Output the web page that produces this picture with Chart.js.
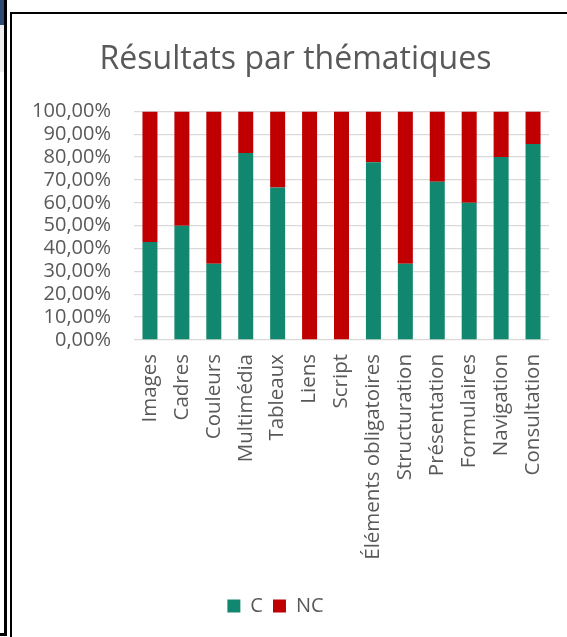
<!DOCTYPE html>
<html>
<head>
<meta charset="utf-8">
<script src="https://cdn.jsdelivr.net/npm/chart.js@4/dist/chart.umd.min.js"></script>
<style>
  html, body { margin: 0; padding: 0; background: #ffffff; overflow: hidden; width: 567px; height: 637px; }
  .deco { position: absolute; }
  #wrap { position: absolute; left: 12px; top: 14px; width: 567px; height: 623px; }
</style>
</head>
<body>
<div class="deco" style="left:0;top:0;width:4px;height:25px;background:#2E4A74;"></div>
<div class="deco" style="left:0;top:25px;width:4px;height:47px;background:#EDEDED;"></div>
<div class="deco" style="left:4px;top:0;width:3px;height:636px;background:#000;"></div>
<div class="deco" style="left:0;top:633px;width:7px;height:3px;background:#000;"></div>
<div class="deco" style="left:10px;top:12px;width:2px;height:625px;background:#000;"></div>
<div class="deco" style="left:10px;top:12px;width:557px;height:2px;background:#000;"></div>
<div id="wrap"><canvas id="c" width="567" height="623"></canvas></div>
<script>
const categories = ["Images", "Cadres", "Couleurs", "Multimédia", "Tableaux", "Liens", "Script",
  "Éléments obligatoires", "Structuration", "Présentation", "Formulaires", "Navigation", "Consultation"];
const conforme    = [42.86, 50, 33.33, 81.82, 66.67, 0, 0, 77.78, 33.33, 69.23, 60, 80, 85.71];
const nonConforme = [57.14, 50, 66.67, 18.18, 33.33, 100, 100, 22.22, 66.67, 30.77, 40, 20, 14.29];
const seriesNames = ["C", "NC"];
const titleText = "Résultats par thématiques";

const FONT = "'Open Sans', 'Noto Sans', sans-serif";
const GREY = "#595959";

const shiftBoxes = {
  id: 'shiftBoxes',
  afterLayout(chart) {
    const lg = chart.legend;
    if (lg) { lg.left -= 5; lg.right -= 5; }
    const t = chart.titleBlock;
    if (t) { t.left += 15; t.right += 15; }
  }
};

new Chart(document.getElementById('c'), {
  type: 'bar',
  data: {
    labels: categories,
    datasets: [
      { label: seriesNames[0], data: conforme, backgroundColor: '#12876F', borderWidth: 0 },
      { label: seriesNames[1], data: nonConforme, backgroundColor: '#C00000', borderWidth: 0 }
    ]
  },
  options: {
    responsive: false,
    animation: false,
    devicePixelRatio: 1,
    layout: { padding: { left: 0, right: 30, top: 0, bottom: 11 } },
    datasets: { bar: { barPercentage: 0.47, categoryPercentage: 1 } },
    plugins: {
      title: {
        display: true,
        text: titleText,
        color: GREY,
        font: { family: FONT, size: 32, weight: 'normal' },
        padding: { top: 27, bottom: 32 }
      },
      legend: {
        position: 'bottom',
        labels: {
          boxWidth: 13, boxHeight: 13,
          color: GREY,
          font: { family: FONT, size: 20 },
          padding: 10
        }
      },
      tooltip: { enabled: false }
    },
    scales: {
      x: {
        stacked: true,
        grid: { display: false },
        border: { display: false },
        ticks: {
          color: GREY,
          font: { family: FONT, size: 20.5 },
          maxRotation: 90, minRotation: 90,
          padding: 6,
          autoSkip: false
        },
        afterFit(scale) { scale.height = 246; }
      },
      y: {
        stacked: true,
        min: 0, max: 100,
        border: { display: false },
        grid: { color: '#D9D9D9', lineWidth: 1.3, drawTicks: false },
        ticks: {
          stepSize: 10,
          autoSkip: false,
          color: GREY,
          font: { family: FONT, size: 20 },
          padding: 23,
          callback: (v) => v.toFixed(2).replace('.', ',') + '%'
        },
        afterFit(scale) { scale.width = 122; }
      }
    }
  },
  plugins: [shiftBoxes]
});
</script>
</body>
</html>
